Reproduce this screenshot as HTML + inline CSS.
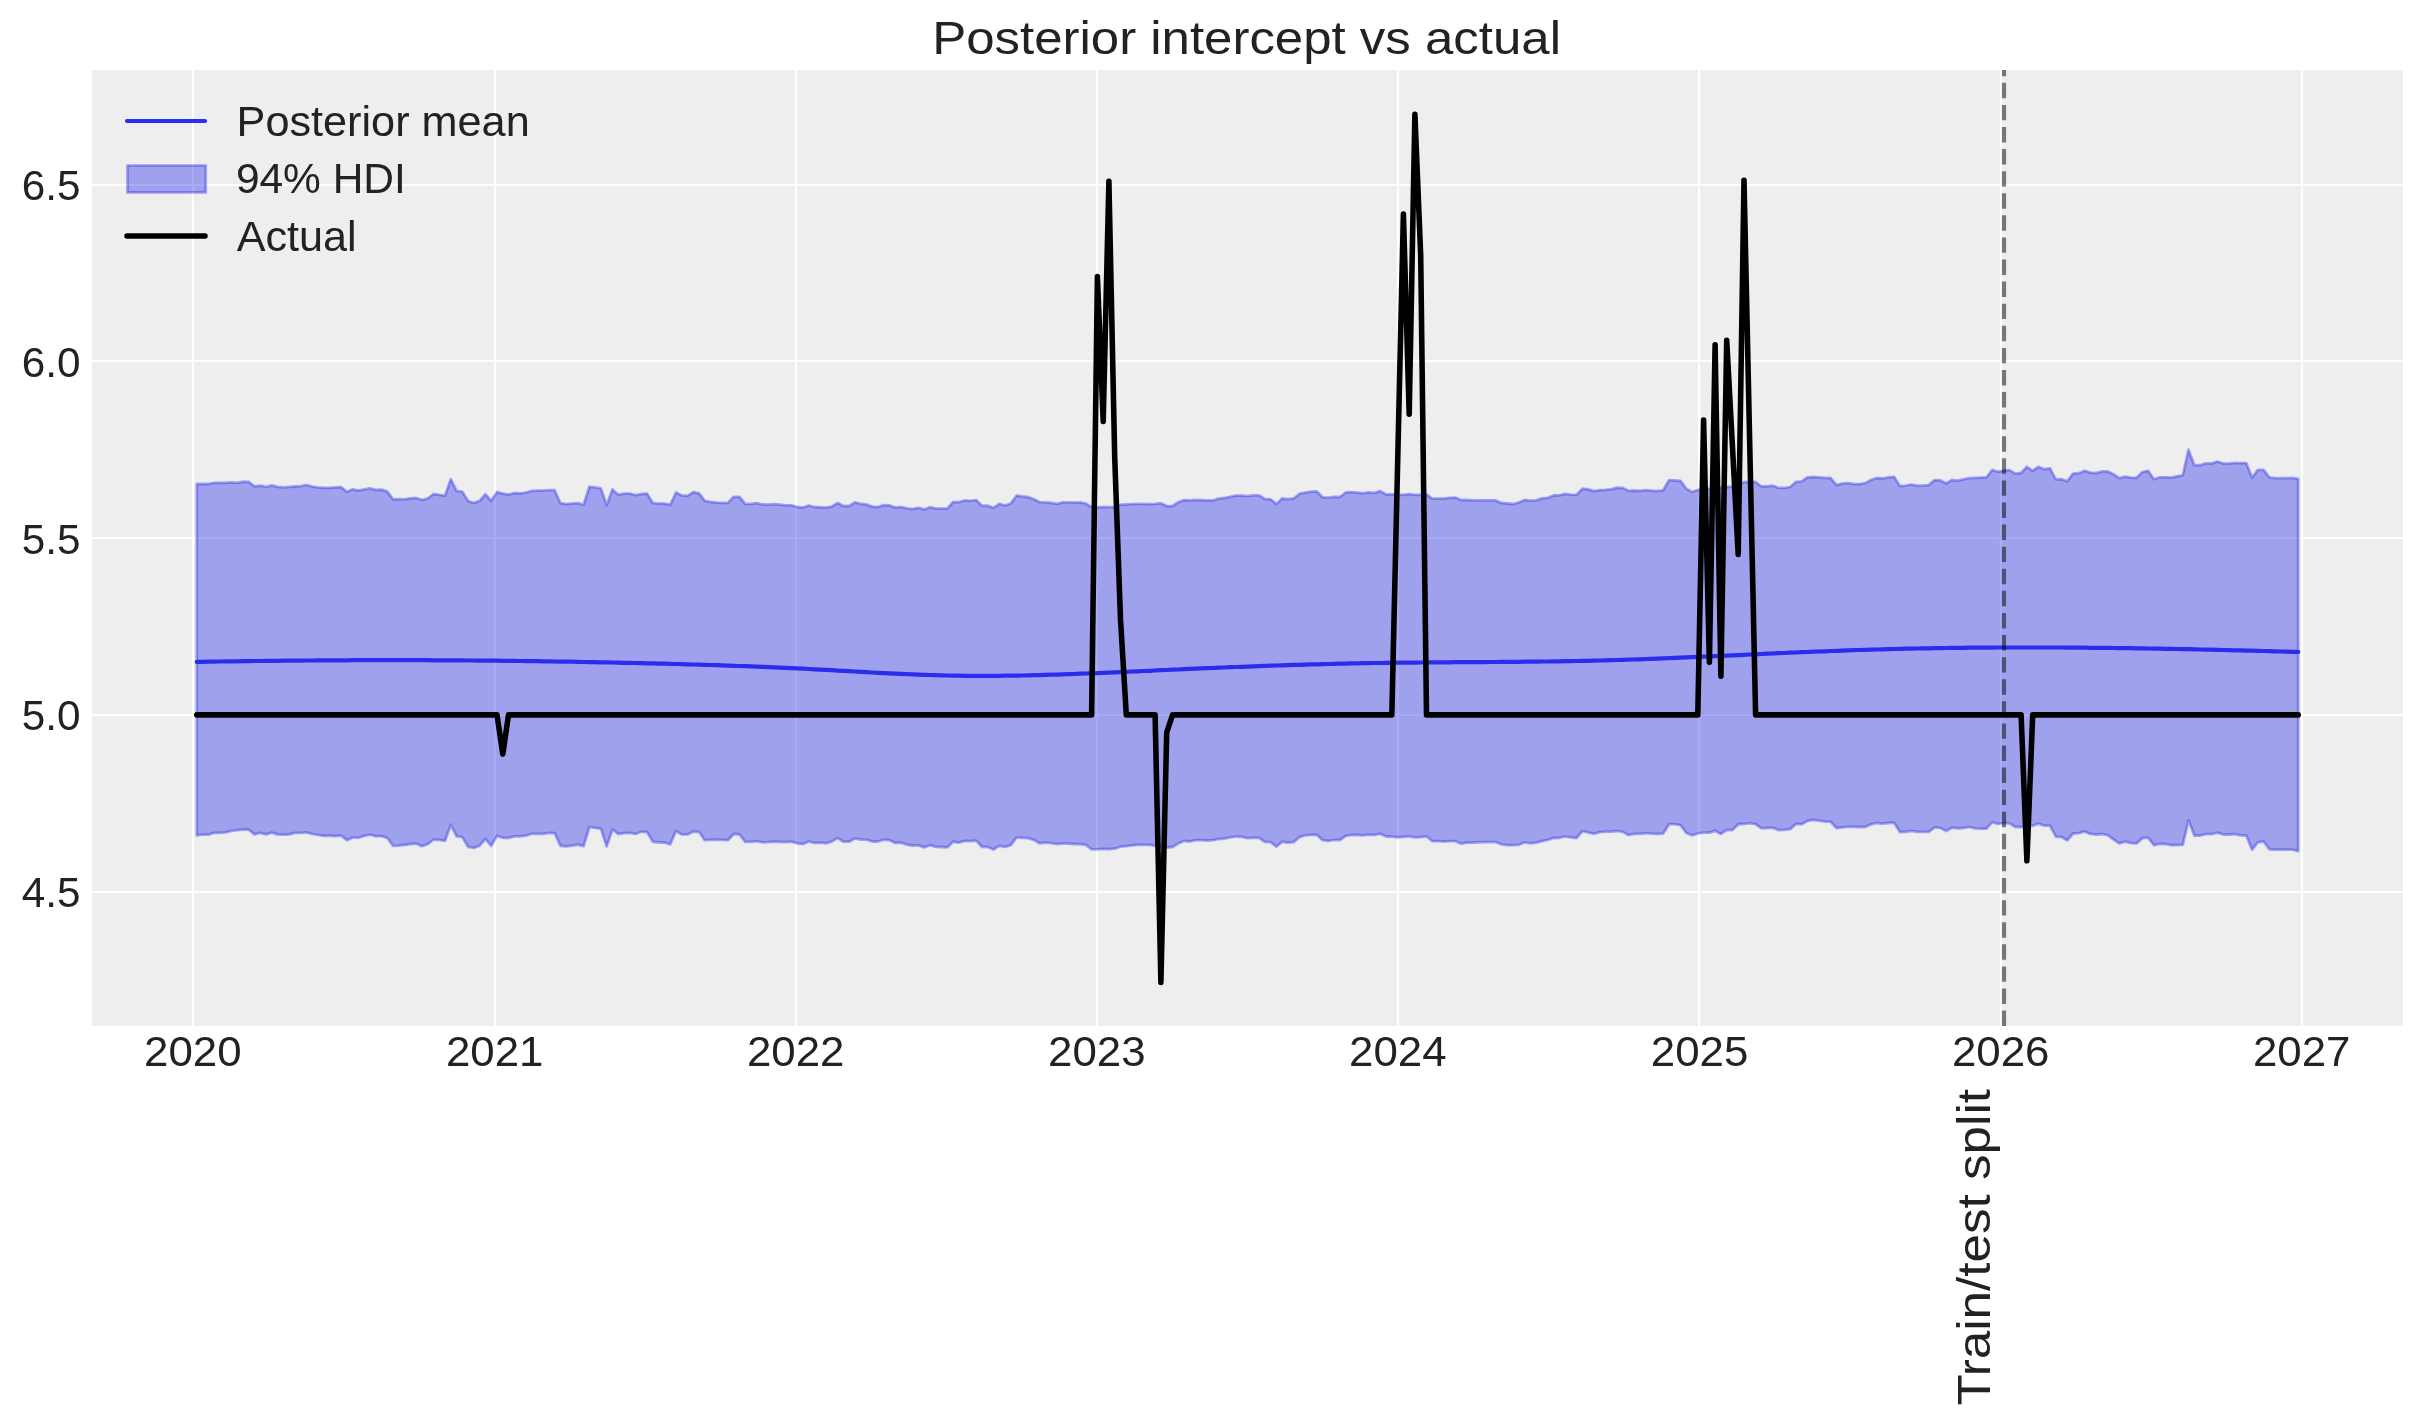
<!DOCTYPE html><html><head><meta charset="utf-8"><style>html,body{margin:0;padding:0;background:#fff;overflow:hidden}svg{display:block}text{font-family:"Liberation Sans", sans-serif;fill:#222222}svg{will-change:transform}</style></head><body>
<svg width="2423" height="1423" viewBox="0 0 2423 1423">
<rect x="0" y="0" width="2423" height="1423" fill="#ffffff"/>
<rect x="92" y="70" width="2311" height="956" fill="#eeeeee"/>
<path d="M193.00,70 V1026 M495.00,70 V1026 M796.00,70 V1026 M1097.00,70 V1026 M1398.00,70 V1026 M1699.00,70 V1026 M2001.00,70 V1026 M2302.00,70 V1026 M92,892.00 H2403 M92,715.00 H2403 M92,538.00 H2403 M92,361.00 H2403 M92,185.00 H2403" stroke="#ffffff" stroke-width="2.22" fill="none"/>
<path d="M196.8,484.0 L202.5,484.0 L208.3,484.0 L214.1,482.8 L219.9,482.8 L225.6,482.8 L231.4,482.4 L237.2,482.9 L243.0,481.7 L248.7,481.9 L254.5,486.3 L260.3,485.7 L266.1,486.9 L271.8,485.4 L277.6,486.9 L283.4,487.4 L289.1,486.9 L294.9,486.5 L300.7,486.2 L306.5,485.0 L312.2,486.5 L318.0,487.4 L323.8,487.8 L329.6,487.8 L335.3,487.4 L341.1,487.1 L346.9,491.8 L352.7,489.4 L358.4,490.6 L364.2,489.4 L370.0,488.4 L375.7,489.9 L381.5,489.6 L387.3,491.5 L393.1,499.3 L398.8,499.2 L404.6,499.3 L410.4,498.3 L416.2,498.0 L421.9,499.9 L427.7,498.5 L433.5,494.0 L439.3,494.8 L445.0,495.8 L450.8,479.1 L456.6,490.9 L462.3,491.7 L468.1,501.1 L473.9,503.0 L479.7,500.8 L485.4,494.2 L491.2,500.8 L497.0,492.1 L502.8,493.6 L508.5,494.6 L514.3,493.1 L520.1,493.3 L525.8,492.7 L531.6,490.9 L537.4,490.6 L543.2,490.6 L548.9,490.2 L554.7,490.2 L560.5,503.2 L566.3,504.1 L572.0,503.6 L577.8,503.2 L583.6,504.7 L589.4,486.8 L595.1,487.4 L600.9,488.4 L606.7,505.3 L612.4,489.4 L618.2,494.8 L624.0,493.6 L629.8,493.6 L635.5,495.2 L641.3,494.0 L647.1,493.6 L652.9,503.2 L658.6,503.6 L664.4,503.6 L670.2,504.8 L676.0,492.5 L681.7,495.4 L687.5,495.8 L693.3,492.1 L699.0,493.3 L704.8,500.8 L710.6,502.0 L716.4,502.6 L722.1,502.9 L727.9,502.9 L733.7,496.8 L739.5,496.8 L745.2,503.9 L751.0,503.9 L756.8,503.2 L762.6,504.5 L768.3,504.7 L774.1,504.2 L779.9,504.7 L785.6,505.3 L791.4,505.3 L797.2,507.0 L803.0,507.6 L808.7,505.5 L814.5,507.0 L820.3,507.3 L826.1,507.6 L831.8,506.6 L837.6,503.0 L843.4,506.0 L849.2,506.0 L854.9,502.4 L860.7,503.9 L866.5,504.5 L872.2,506.6 L878.0,507.0 L883.8,505.1 L889.6,505.5 L895.3,507.6 L901.1,507.0 L906.9,508.4 L912.7,509.1 L918.4,507.8 L924.2,509.4 L930.0,507.2 L935.8,508.6 L941.5,508.6 L947.3,508.6 L953.1,502.0 L958.8,502.2 L964.6,500.5 L970.4,500.8 L976.2,500.1 L981.9,505.7 L987.7,505.7 L993.5,507.9 L999.3,503.9 L1005.0,505.5 L1010.8,503.5 L1016.6,495.6 L1022.3,496.4 L1028.1,497.0 L1033.9,499.3 L1039.7,502.2 L1045.4,502.4 L1051.2,502.9 L1057.0,503.9 L1062.8,502.4 L1068.5,502.4 L1074.3,502.6 L1080.1,502.4 L1085.9,503.5 L1091.6,507.2 L1097.4,507.3 L1103.2,507.0 L1108.9,507.2 L1114.7,507.2 L1120.5,504.7 L1126.3,504.5 L1132.0,504.1 L1137.8,503.9 L1143.6,503.9 L1149.4,504.1 L1155.1,503.9 L1160.9,503.2 L1166.7,506.1 L1172.5,506.0 L1178.2,502.2 L1184.0,500.1 L1189.8,500.5 L1195.5,499.9 L1201.3,500.1 L1207.1,500.5 L1212.9,500.5 L1218.6,498.7 L1224.4,498.0 L1230.2,496.8 L1236.0,495.6 L1241.7,495.6 L1247.5,496.2 L1253.3,495.4 L1259.1,495.4 L1264.8,498.9 L1270.6,499.3 L1276.4,503.9 L1282.1,498.5 L1287.9,499.2 L1293.7,498.5 L1299.5,493.7 L1305.2,492.7 L1311.0,491.7 L1316.8,491.5 L1322.6,497.3 L1328.3,497.7 L1334.1,497.0 L1339.9,497.0 L1345.7,492.5 L1351.4,492.1 L1357.2,492.7 L1363.0,493.2 L1368.7,492.4 L1374.5,492.9 L1380.3,491.1 L1386.1,494.5 L1391.8,494.5 L1397.6,494.7 L1403.4,494.8 L1409.2,494.2 L1414.9,494.8 L1420.7,494.8 L1426.5,494.5 L1432.2,498.6 L1438.0,498.6 L1443.8,498.6 L1449.6,497.8 L1455.3,497.6 L1461.1,500.0 L1466.9,500.0 L1472.7,500.3 L1478.4,500.4 L1484.2,500.4 L1490.0,500.4 L1495.8,500.4 L1501.5,502.9 L1507.3,503.5 L1513.1,504.0 L1518.8,502.5 L1524.6,500.0 L1530.4,500.7 L1536.2,500.3 L1541.9,498.4 L1547.7,497.9 L1553.5,495.5 L1559.3,495.3 L1565.0,493.9 L1570.8,494.7 L1576.6,494.8 L1582.4,488.7 L1588.1,489.3 L1593.9,491.1 L1599.7,490.1 L1605.4,489.8 L1611.2,489.3 L1617.0,487.7 L1622.8,488.0 L1628.5,490.8 L1634.3,490.5 L1640.1,490.8 L1645.9,490.1 L1651.6,490.7 L1657.4,490.9 L1663.2,490.3 L1669.0,480.1 L1674.7,480.5 L1680.5,480.8 L1686.3,488.8 L1692.0,491.9 L1697.8,490.0 L1703.6,489.4 L1709.4,488.8 L1715.1,488.2 L1720.9,487.6 L1726.7,487.0 L1732.5,486.7 L1738.2,484.5 L1744.0,482.2 L1749.8,482.0 L1755.6,482.0 L1761.3,486.3 L1767.1,486.3 L1772.9,485.7 L1778.6,487.9 L1784.4,487.9 L1790.2,487.0 L1796.0,481.8 L1801.7,481.4 L1807.5,477.3 L1813.3,477.0 L1819.1,477.3 L1824.8,477.9 L1830.6,478.0 L1836.4,485.1 L1842.2,483.6 L1847.9,483.2 L1853.7,483.9 L1859.5,484.1 L1865.2,483.2 L1871.0,479.9 L1876.8,478.0 L1882.6,478.5 L1888.3,477.4 L1894.1,476.8 L1899.9,486.0 L1905.7,485.7 L1911.4,484.5 L1917.2,485.7 L1923.0,485.7 L1928.7,485.1 L1934.5,480.1 L1940.3,480.3 L1946.1,483.5 L1951.8,480.0 L1957.6,480.7 L1963.4,479.4 L1969.2,478.2 L1974.9,477.9 L1980.7,477.6 L1986.5,477.3 L1992.3,469.9 L1998.0,471.8 L2003.8,470.5 L2009.6,470.1 L2015.3,473.6 L2021.1,473.0 L2026.9,466.8 L2032.7,470.8 L2038.4,466.8 L2044.2,469.2 L2050.0,468.3 L2055.8,479.4 L2061.5,479.2 L2067.3,481.3 L2073.1,473.6 L2078.9,473.2 L2084.6,470.8 L2090.4,472.6 L2096.2,473.2 L2101.9,471.4 L2107.7,471.4 L2113.5,474.2 L2119.3,478.2 L2125.0,476.7 L2130.8,477.6 L2136.6,477.8 L2142.4,472.0 L2148.1,470.8 L2153.9,479.2 L2159.7,477.3 L2165.5,477.3 L2171.2,477.6 L2177.0,476.3 L2182.8,475.3 L2188.5,449.7 L2194.3,465.2 L2200.1,465.2 L2205.9,463.3 L2211.6,463.6 L2217.4,461.5 L2223.2,463.6 L2229.0,463.6 L2234.7,462.9 L2240.5,463.1 L2246.3,463.1 L2252.1,477.8 L2257.8,469.9 L2263.6,469.9 L2269.4,477.4 L2275.1,478.2 L2280.9,478.2 L2286.7,478.2 L2292.5,477.9 L2298.2,478.8 L2298.2,851.2 L2292.5,849.7 L2286.7,849.7 L2280.9,849.5 L2275.1,849.7 L2269.4,849.3 L2263.6,841.5 L2257.8,842.3 L2252.1,849.7 L2246.3,835.5 L2240.5,835.3 L2234.7,834.1 L2229.0,834.5 L2223.2,834.5 L2217.4,832.6 L2211.6,834.1 L2205.9,834.1 L2200.1,835.5 L2194.3,835.5 L2188.5,820.2 L2182.8,844.8 L2177.0,845.0 L2171.2,845.2 L2165.5,844.0 L2159.7,843.8 L2153.9,845.2 L2148.1,837.6 L2142.4,838.2 L2136.6,843.4 L2130.8,843.1 L2125.0,841.7 L2119.3,843.4 L2113.5,839.4 L2107.7,835.1 L2101.9,834.1 L2096.2,834.5 L2090.4,833.9 L2084.6,831.4 L2078.9,833.2 L2073.1,833.5 L2067.3,840.4 L2061.5,837.0 L2055.8,836.6 L2050.0,825.6 L2044.2,825.6 L2038.4,823.6 L2032.7,825.8 L2026.9,825.8 L2021.1,827.0 L2015.3,827.0 L2009.6,823.3 L2003.8,823.0 L1998.0,824.0 L1992.3,822.1 L1986.5,828.7 L1980.7,828.7 L1974.9,828.3 L1969.2,827.0 L1963.4,828.0 L1957.6,828.3 L1951.8,827.7 L1946.1,831.1 L1940.3,827.9 L1934.5,827.4 L1928.7,831.8 L1923.0,831.8 L1917.2,831.8 L1911.4,830.8 L1905.7,831.8 L1899.9,832.0 L1894.1,822.7 L1888.3,823.0 L1882.6,823.7 L1876.8,823.0 L1871.0,824.3 L1865.2,827.0 L1859.5,827.0 L1853.7,826.8 L1847.9,826.8 L1842.2,827.4 L1836.4,828.0 L1830.6,821.7 L1824.8,821.7 L1819.1,820.6 L1813.3,819.9 L1807.5,820.9 L1801.7,824.2 L1796.0,824.0 L1790.2,829.2 L1784.4,829.8 L1778.6,830.1 L1772.9,827.7 L1767.1,828.0 L1761.3,828.3 L1755.6,824.2 L1749.8,823.1 L1744.0,824.0 L1738.2,824.2 L1732.5,830.1 L1726.7,829.8 L1720.9,833.9 L1715.1,830.8 L1709.4,832.6 L1703.6,832.6 L1697.8,833.5 L1692.0,835.3 L1686.3,833.0 L1680.5,825.2 L1674.7,824.2 L1669.0,824.2 L1663.2,833.6 L1657.4,833.9 L1651.6,833.6 L1645.9,833.1 L1640.1,833.8 L1634.3,833.8 L1628.5,835.0 L1622.8,831.9 L1617.0,831.0 L1611.2,831.6 L1605.4,831.6 L1599.7,832.2 L1593.9,833.8 L1588.1,832.4 L1582.4,831.2 L1576.6,838.0 L1570.8,837.4 L1565.0,836.5 L1559.3,837.8 L1553.5,838.0 L1547.7,839.9 L1541.9,841.2 L1536.2,842.7 L1530.4,843.3 L1524.6,842.3 L1518.8,844.8 L1513.1,845.2 L1507.3,845.2 L1501.5,844.3 L1495.8,842.1 L1490.0,842.1 L1484.2,842.1 L1478.4,842.3 L1472.7,842.5 L1466.9,842.7 L1461.1,843.6 L1455.3,841.2 L1449.6,841.2 L1443.8,841.5 L1438.0,841.2 L1432.2,841.2 L1426.5,836.3 L1420.7,837.1 L1414.9,837.4 L1409.2,836.3 L1403.4,836.8 L1397.6,837.4 L1391.8,836.5 L1386.1,836.5 L1380.3,833.7 L1374.5,835.0 L1368.7,834.7 L1363.0,835.3 L1357.2,835.0 L1351.4,835.0 L1345.7,835.9 L1339.9,840.0 L1334.1,840.0 L1328.3,840.9 L1322.6,840.2 L1316.8,834.7 L1311.0,834.9 L1305.2,835.3 L1299.5,837.1 L1293.7,842.1 L1287.9,842.5 L1282.1,841.8 L1276.4,846.7 L1270.6,842.1 L1264.8,841.8 L1259.1,837.8 L1253.3,837.8 L1247.5,838.1 L1241.7,836.8 L1236.0,836.5 L1230.2,837.5 L1224.4,838.6 L1218.6,839.0 L1212.9,840.2 L1207.1,840.5 L1201.3,840.2 L1195.5,840.2 L1189.8,841.5 L1184.0,840.9 L1178.2,843.6 L1172.5,847.0 L1166.7,847.7 L1160.9,846.4 L1155.1,845.6 L1149.4,844.9 L1143.6,844.8 L1137.8,844.9 L1132.0,845.4 L1126.3,846.1 L1120.5,846.7 L1114.7,848.7 L1108.9,849.2 L1103.2,848.9 L1097.4,849.3 L1091.6,849.3 L1085.9,844.8 L1080.1,844.2 L1074.3,844.0 L1068.5,843.6 L1062.8,843.3 L1057.0,844.2 L1051.2,843.1 L1045.4,842.7 L1039.7,843.3 L1033.9,839.9 L1028.1,838.1 L1022.3,837.8 L1016.6,837.4 L1010.8,845.2 L1005.0,847.0 L999.3,845.8 L993.5,849.5 L987.7,847.0 L981.9,846.8 L976.2,840.6 L970.4,841.2 L964.6,840.9 L958.8,842.7 L953.1,841.7 L947.3,847.4 L941.5,847.0 L935.8,846.8 L930.0,845.2 L924.2,847.4 L918.4,845.2 L912.7,845.6 L906.9,844.6 L901.1,842.7 L895.3,843.0 L889.6,840.2 L883.8,839.6 L878.0,841.5 L872.2,841.5 L866.5,839.6 L860.7,839.6 L854.9,838.4 L849.2,841.7 L843.4,841.7 L837.6,838.1 L831.8,841.5 L826.1,843.3 L820.3,842.7 L814.5,843.0 L808.7,841.5 L803.0,844.0 L797.2,843.3 L791.4,841.7 L785.6,842.1 L779.9,841.8 L774.1,841.5 L768.3,842.1 L762.6,842.3 L756.8,841.2 L751.0,841.8 L745.2,841.8 L739.5,834.4 L733.7,834.0 L727.9,840.2 L722.1,839.9 L716.4,839.6 L710.6,839.9 L704.8,840.2 L699.0,831.8 L693.3,831.6 L687.5,834.4 L681.7,834.4 L676.0,831.0 L670.2,844.3 L664.4,842.5 L658.6,842.3 L652.9,841.8 L647.1,832.2 L641.3,831.8 L635.5,834.0 L629.8,832.8 L624.0,833.2 L618.2,834.0 L612.4,829.5 L606.7,846.4 L600.9,828.7 L595.1,827.9 L589.4,827.0 L583.6,846.1 L577.8,844.6 L572.0,845.6 L566.3,846.4 L560.5,845.8 L554.7,833.2 L548.9,832.8 L543.2,833.8 L537.4,833.8 L531.6,833.8 L525.8,835.7 L520.1,836.3 L514.3,836.3 L508.5,838.0 L502.8,837.8 L497.0,835.9 L491.2,845.8 L485.4,839.0 L479.7,845.6 L473.9,848.0 L468.1,846.8 L462.3,837.1 L456.6,836.3 L450.8,824.8 L445.0,840.9 L439.3,839.9 L433.5,839.6 L427.7,844.2 L421.9,846.2 L416.2,843.6 L410.4,844.2 L404.6,844.9 L398.8,845.6 L393.1,845.8 L387.3,838.0 L381.5,836.2 L375.7,836.2 L370.0,834.7 L364.2,835.9 L358.4,837.8 L352.7,837.4 L346.9,840.2 L341.1,835.5 L335.3,836.2 L329.6,835.5 L323.8,835.9 L318.0,835.0 L312.2,834.0 L306.5,832.4 L300.7,832.8 L294.9,832.8 L289.1,834.4 L283.4,834.7 L277.6,834.4 L271.8,832.6 L266.1,834.4 L260.3,832.8 L254.5,834.4 L248.7,829.7 L243.0,829.5 L237.2,830.1 L231.4,831.0 L225.6,832.4 L219.9,832.8 L214.1,832.8 L208.3,834.7 L202.5,834.7 L196.8,835.3 Z" fill="#2a2eec" fill-opacity="0.4" stroke="#2a2eec" stroke-opacity="0.4" stroke-width="2.78" stroke-linejoin="round"/>
<path d="M196.8,661.9 L202.5,661.8 L208.3,661.7 L214.1,661.6 L219.9,661.5 L225.6,661.4 L231.4,661.4 L237.2,661.3 L243.0,661.2 L248.7,661.1 L254.5,661.0 L260.3,661.0 L266.1,660.9 L271.8,660.8 L277.6,660.8 L283.4,660.7 L289.1,660.7 L294.9,660.6 L300.7,660.6 L306.5,660.5 L312.2,660.5 L318.0,660.4 L323.8,660.4 L329.6,660.3 L335.3,660.3 L341.1,660.3 L346.9,660.3 L352.7,660.2 L358.4,660.2 L364.2,660.2 L370.0,660.2 L375.7,660.2 L381.5,660.2 L387.3,660.2 L393.1,660.2 L398.8,660.2 L404.6,660.2 L410.4,660.2 L416.2,660.2 L421.9,660.2 L427.7,660.2 L433.5,660.3 L439.3,660.3 L445.0,660.3 L450.8,660.4 L456.6,660.4 L462.3,660.4 L468.1,660.5 L473.9,660.5 L479.7,660.6 L485.4,660.6 L491.2,660.7 L497.0,660.7 L502.8,660.8 L508.5,660.8 L514.3,660.9 L520.1,661.0 L525.8,661.1 L531.6,661.1 L537.4,661.2 L543.2,661.3 L548.9,661.4 L554.7,661.5 L560.5,661.6 L566.3,661.6 L572.0,661.7 L577.8,661.8 L583.6,662.0 L589.4,662.1 L595.1,662.2 L600.9,662.3 L606.7,662.4 L612.4,662.5 L618.2,662.6 L624.0,662.8 L629.8,662.9 L635.5,663.0 L641.3,663.2 L647.1,663.3 L652.9,663.4 L658.6,663.6 L664.4,663.7 L670.2,663.9 L676.0,664.0 L681.7,664.2 L687.5,664.4 L693.3,664.5 L699.0,664.7 L704.8,664.9 L710.6,665.0 L716.4,665.2 L722.1,665.4 L727.9,665.6 L733.7,665.8 L739.5,666.0 L745.2,666.2 L751.0,666.4 L756.8,666.6 L762.6,666.8 L768.3,667.1 L774.1,667.3 L779.9,667.6 L785.6,667.8 L791.4,668.1 L797.2,668.4 L803.0,668.7 L808.7,669.0 L814.5,669.3 L820.3,669.6 L826.1,669.9 L831.8,670.2 L837.6,670.6 L843.4,670.9 L849.2,671.2 L854.9,671.5 L860.7,671.9 L866.5,672.2 L872.2,672.5 L878.0,672.8 L883.8,673.1 L889.6,673.4 L895.3,673.7 L901.1,673.9 L906.9,674.2 L912.7,674.4 L918.4,674.6 L924.2,674.8 L930.0,675.0 L935.8,675.2 L941.5,675.4 L947.3,675.5 L953.1,675.6 L958.8,675.7 L964.6,675.8 L970.4,675.8 L976.2,675.9 L981.9,675.9 L987.7,675.9 L993.5,675.8 L999.3,675.8 L1005.0,675.7 L1010.8,675.7 L1016.6,675.6 L1022.3,675.5 L1028.1,675.3 L1033.9,675.2 L1039.7,675.1 L1045.4,674.9 L1051.2,674.7 L1057.0,674.6 L1062.8,674.4 L1068.5,674.2 L1074.3,674.0 L1080.1,673.7 L1085.9,673.5 L1091.6,673.3 L1097.4,673.1 L1103.2,672.8 L1108.9,672.6 L1114.7,672.3 L1120.5,672.1 L1126.3,671.8 L1132.0,671.5 L1137.8,671.3 L1143.6,671.0 L1149.4,670.8 L1155.1,670.5 L1160.9,670.2 L1166.7,670.0 L1172.5,669.7 L1178.2,669.5 L1184.0,669.2 L1189.8,668.9 L1195.5,668.7 L1201.3,668.4 L1207.1,668.2 L1212.9,668.0 L1218.6,667.7 L1224.4,667.5 L1230.2,667.2 L1236.0,667.0 L1241.7,666.8 L1247.5,666.6 L1253.3,666.3 L1259.1,666.1 L1264.8,665.9 L1270.6,665.7 L1276.4,665.5 L1282.1,665.3 L1287.9,665.1 L1293.7,664.9 L1299.5,664.8 L1305.2,664.6 L1311.0,664.4 L1316.8,664.3 L1322.6,664.1 L1328.3,664.0 L1334.1,663.8 L1339.9,663.7 L1345.7,663.6 L1351.4,663.4 L1357.2,663.3 L1363.0,663.2 L1368.7,663.1 L1374.5,663.0 L1380.3,663.0 L1386.1,662.9 L1391.8,662.8 L1397.6,662.7 L1403.4,662.7 L1409.2,662.6 L1414.9,662.6 L1420.7,662.5 L1426.5,662.5 L1432.2,662.4 L1438.0,662.4 L1443.8,662.3 L1449.6,662.3 L1455.3,662.2 L1461.1,662.2 L1466.9,662.2 L1472.7,662.1 L1478.4,662.1 L1484.2,662.1 L1490.0,662.0 L1495.8,662.0 L1501.5,661.9 L1507.3,661.9 L1513.1,661.8 L1518.8,661.8 L1524.6,661.7 L1530.4,661.7 L1536.2,661.6 L1541.9,661.5 L1547.7,661.5 L1553.5,661.4 L1559.3,661.3 L1565.0,661.2 L1570.8,661.1 L1576.6,661.0 L1582.4,660.9 L1588.1,660.8 L1593.9,660.6 L1599.7,660.5 L1605.4,660.3 L1611.2,660.2 L1617.0,660.0 L1622.8,659.8 L1628.5,659.6 L1634.3,659.5 L1640.1,659.3 L1645.9,659.0 L1651.6,658.8 L1657.4,658.6 L1663.2,658.4 L1669.0,658.2 L1674.7,657.9 L1680.5,657.7 L1686.3,657.4 L1692.0,657.2 L1697.8,656.9 L1703.6,656.7 L1709.4,656.4 L1715.1,656.1 L1720.9,655.9 L1726.7,655.6 L1732.5,655.3 L1738.2,655.1 L1744.0,654.8 L1749.8,654.5 L1755.6,654.3 L1761.3,654.0 L1767.1,653.7 L1772.9,653.5 L1778.6,653.2 L1784.4,653.0 L1790.2,652.7 L1796.0,652.5 L1801.7,652.2 L1807.5,652.0 L1813.3,651.7 L1819.1,651.5 L1824.8,651.3 L1830.6,651.0 L1836.4,650.8 L1842.2,650.6 L1847.9,650.4 L1853.7,650.2 L1859.5,650.0 L1865.2,649.8 L1871.0,649.6 L1876.8,649.5 L1882.6,649.3 L1888.3,649.2 L1894.1,649.0 L1899.9,648.9 L1905.7,648.7 L1911.4,648.6 L1917.2,648.5 L1923.0,648.4 L1928.7,648.3 L1934.5,648.2 L1940.3,648.1 L1946.1,648.0 L1951.8,647.9 L1957.6,647.9 L1963.4,647.8 L1969.2,647.7 L1974.9,647.7 L1980.7,647.6 L1986.5,647.6 L1992.3,647.6 L1998.0,647.5 L2003.8,647.5 L2009.6,647.5 L2015.3,647.5 L2021.1,647.5 L2026.9,647.5 L2032.7,647.5 L2038.4,647.5 L2044.2,647.5 L2050.0,647.5 L2055.8,647.5 L2061.5,647.5 L2067.3,647.6 L2073.1,647.6 L2078.9,647.7 L2084.6,647.7 L2090.4,647.8 L2096.2,647.8 L2101.9,647.9 L2107.7,647.9 L2113.5,648.0 L2119.3,648.1 L2125.0,648.2 L2130.8,648.2 L2136.6,648.3 L2142.4,648.4 L2148.1,648.5 L2153.9,648.6 L2159.7,648.7 L2165.5,648.8 L2171.2,648.9 L2177.0,649.0 L2182.8,649.1 L2188.5,649.2 L2194.3,649.4 L2200.1,649.5 L2205.9,649.6 L2211.6,649.7 L2217.4,649.9 L2223.2,650.0 L2229.0,650.1 L2234.7,650.3 L2240.5,650.4 L2246.3,650.6 L2252.1,650.7 L2257.8,650.9 L2263.6,651.0 L2269.4,651.2 L2275.1,651.3 L2280.9,651.5 L2286.7,651.6 L2292.5,651.8 L2298.2,651.9" fill="none" stroke="#2a2eec" stroke-width="4.17" stroke-linejoin="round" stroke-linecap="round"/>
<path d="M196.8,714.9 L202.5,714.9 L208.3,714.9 L214.1,714.9 L219.9,714.9 L225.6,714.9 L231.4,714.9 L237.2,714.9 L243.0,714.9 L248.7,714.9 L254.5,714.9 L260.3,714.9 L266.1,714.9 L271.8,714.9 L277.6,714.9 L283.4,714.9 L289.1,714.9 L294.9,714.9 L300.7,714.9 L306.5,714.9 L312.2,714.9 L318.0,714.9 L323.8,714.9 L329.6,714.9 L335.3,714.9 L341.1,714.9 L346.9,714.9 L352.7,714.9 L358.4,714.9 L364.2,714.9 L370.0,714.9 L375.7,714.9 L381.5,714.9 L387.3,714.9 L393.1,714.9 L398.8,714.9 L404.6,714.9 L410.4,714.9 L416.2,714.9 L421.9,714.9 L427.7,714.9 L433.5,714.9 L439.3,714.9 L445.0,714.9 L450.8,714.9 L456.6,714.9 L462.3,714.9 L468.1,714.9 L473.9,714.9 L479.7,714.9 L485.4,714.9 L491.2,714.9 L497.0,714.9 L502.8,754.1 L508.5,714.9 L514.3,714.9 L520.1,714.9 L525.8,714.9 L531.6,714.9 L537.4,714.9 L543.2,714.9 L548.9,714.9 L554.7,714.9 L560.5,714.9 L566.3,714.9 L572.0,714.9 L577.8,714.9 L583.6,714.9 L589.4,714.9 L595.1,714.9 L600.9,714.9 L606.7,714.9 L612.4,714.9 L618.2,714.9 L624.0,714.9 L629.8,714.9 L635.5,714.9 L641.3,714.9 L647.1,714.9 L652.9,714.9 L658.6,714.9 L664.4,714.9 L670.2,714.9 L676.0,714.9 L681.7,714.9 L687.5,714.9 L693.3,714.9 L699.0,714.9 L704.8,714.9 L710.6,714.9 L716.4,714.9 L722.1,714.9 L727.9,714.9 L733.7,714.9 L739.5,714.9 L745.2,714.9 L751.0,714.9 L756.8,714.9 L762.6,714.9 L768.3,714.9 L774.1,714.9 L779.9,714.9 L785.6,714.9 L791.4,714.9 L797.2,714.9 L803.0,714.9 L808.7,714.9 L814.5,714.9 L820.3,714.9 L826.1,714.9 L831.8,714.9 L837.6,714.9 L843.4,714.9 L849.2,714.9 L854.9,714.9 L860.7,714.9 L866.5,714.9 L872.2,714.9 L878.0,714.9 L883.8,714.9 L889.6,714.9 L895.3,714.9 L901.1,714.9 L906.9,714.9 L912.7,714.9 L918.4,714.9 L924.2,714.9 L930.0,714.9 L935.8,714.9 L941.5,714.9 L947.3,714.9 L953.1,714.9 L958.8,714.9 L964.6,714.9 L970.4,714.9 L976.2,714.9 L981.9,714.9 L987.7,714.9 L993.5,714.9 L999.3,714.9 L1005.0,714.9 L1010.8,714.9 L1016.6,714.9 L1022.3,714.9 L1028.1,714.9 L1033.9,714.9 L1039.7,714.9 L1045.4,714.9 L1051.2,714.9 L1057.0,714.9 L1062.8,714.9 L1068.5,714.9 L1074.3,714.9 L1080.1,714.9 L1085.9,714.9 L1091.6,714.9 L1097.4,276.6 L1103.2,421.5 L1108.9,181.2 L1114.7,456.9 L1120.5,619.4 L1126.3,714.9 L1132.0,714.9 L1137.8,714.9 L1143.6,714.9 L1149.4,714.9 L1155.1,714.9 L1160.9,982.4 L1166.7,732.5 L1172.5,714.9 L1178.2,714.9 L1184.0,714.9 L1189.8,714.9 L1195.5,714.9 L1201.3,714.9 L1207.1,714.9 L1212.9,714.9 L1218.6,714.9 L1224.4,714.9 L1230.2,714.9 L1236.0,714.9 L1241.7,714.9 L1247.5,714.9 L1253.3,714.9 L1259.1,714.9 L1264.8,714.9 L1270.6,714.9 L1276.4,714.9 L1282.1,714.9 L1287.9,714.9 L1293.7,714.9 L1299.5,714.9 L1305.2,714.9 L1311.0,714.9 L1316.8,714.9 L1322.6,714.9 L1328.3,714.9 L1334.1,714.9 L1339.9,714.9 L1345.7,714.9 L1351.4,714.9 L1357.2,714.9 L1363.0,714.9 L1368.7,714.9 L1374.5,714.9 L1380.3,714.9 L1386.1,714.9 L1391.8,714.9 L1397.6,464.6 L1403.4,214.1 L1409.2,414.1 L1414.9,114.4 L1420.7,255.4 L1426.5,714.9 L1432.2,714.9 L1438.0,714.9 L1443.8,714.9 L1449.6,714.9 L1455.3,714.9 L1461.1,714.9 L1466.9,714.9 L1472.7,714.9 L1478.4,714.9 L1484.2,714.9 L1490.0,714.9 L1495.8,714.9 L1501.5,714.9 L1507.3,714.9 L1513.1,714.9 L1518.8,714.9 L1524.6,714.9 L1530.4,714.9 L1536.2,714.9 L1541.9,714.9 L1547.7,714.9 L1553.5,714.9 L1559.3,714.9 L1565.0,714.9 L1570.8,714.9 L1576.6,714.9 L1582.4,714.9 L1588.1,714.9 L1593.9,714.9 L1599.7,714.9 L1605.4,714.9 L1611.2,714.9 L1617.0,714.9 L1622.8,714.9 L1628.5,714.9 L1634.3,714.9 L1640.1,714.9 L1645.9,714.9 L1651.6,714.9 L1657.4,714.9 L1663.2,714.9 L1669.0,714.9 L1674.7,714.9 L1680.5,714.9 L1686.3,714.9 L1692.0,714.9 L1697.8,714.9 L1703.6,420.1 L1709.4,662.2 L1715.1,344.8 L1720.9,676.3 L1726.7,340.2 L1732.5,447.3 L1738.2,554.4 L1744.0,180.2 L1749.8,447.3 L1755.6,714.9 L1761.3,714.9 L1767.1,714.9 L1772.9,714.9 L1778.6,714.9 L1784.4,714.9 L1790.2,714.9 L1796.0,714.9 L1801.7,714.9 L1807.5,714.9 L1813.3,714.9 L1819.1,714.9 L1824.8,714.9 L1830.6,714.9 L1836.4,714.9 L1842.2,714.9 L1847.9,714.9 L1853.7,714.9 L1859.5,714.9 L1865.2,714.9 L1871.0,714.9 L1876.8,714.9 L1882.6,714.9 L1888.3,714.9 L1894.1,714.9 L1899.9,714.9 L1905.7,714.9 L1911.4,714.9 L1917.2,714.9 L1923.0,714.9 L1928.7,714.9 L1934.5,714.9 L1940.3,714.9 L1946.1,714.9 L1951.8,714.9 L1957.6,714.9 L1963.4,714.9 L1969.2,714.9 L1974.9,714.9 L1980.7,714.9 L1986.5,714.9 L1992.3,714.9 L1998.0,714.9 L2003.8,714.9 L2009.6,714.9 L2015.3,714.9 L2021.1,714.9 L2026.9,860.8 L2032.7,714.9 L2038.4,714.9 L2044.2,714.9 L2050.0,714.9 L2055.8,714.9 L2061.5,714.9 L2067.3,714.9 L2073.1,714.9 L2078.9,714.9 L2084.6,714.9 L2090.4,714.9 L2096.2,714.9 L2101.9,714.9 L2107.7,714.9 L2113.5,714.9 L2119.3,714.9 L2125.0,714.9 L2130.8,714.9 L2136.6,714.9 L2142.4,714.9 L2148.1,714.9 L2153.9,714.9 L2159.7,714.9 L2165.5,714.9 L2171.2,714.9 L2177.0,714.9 L2182.8,714.9 L2188.5,714.9 L2194.3,714.9 L2200.1,714.9 L2205.9,714.9 L2211.6,714.9 L2217.4,714.9 L2223.2,714.9 L2229.0,714.9 L2234.7,714.9 L2240.5,714.9 L2246.3,714.9 L2252.1,714.9 L2257.8,714.9 L2263.6,714.9 L2269.4,714.9 L2275.1,714.9 L2280.9,714.9 L2286.7,714.9 L2292.5,714.9 L2298.2,714.9" fill="none" stroke="#000000" stroke-width="5.56" stroke-linejoin="round" stroke-linecap="round"/>
<path d="M2004.0,1026 V70" stroke="#000000" stroke-opacity="0.5" stroke-width="4.17" stroke-dasharray="15.42 6.67" fill="none"/>
<path d="M127,121 H205" stroke="#2a2eec" stroke-width="4.17" stroke-linecap="round"/>
<rect x="127.5" y="165.6" width="78.2" height="26.8" fill="#2a2eec" fill-opacity="0.4" stroke="#2a2eec" stroke-opacity="0.4" stroke-width="2.78"/>
<path d="M127,236 H205" stroke="#000000" stroke-width="5.56" stroke-linecap="round"/>
<text x="1246.6" y="53.9" font-size="45.3" text-anchor="middle" textLength="628.8" lengthAdjust="spacingAndGlyphs">Posterior intercept vs actual</text>
<text x="80.5" y="200.1" font-size="42.3" text-anchor="end">6.5</text>
<text x="80.5" y="376.9" font-size="42.3" text-anchor="end">6.0</text>
<text x="80.5" y="553.6" font-size="42.3" text-anchor="end">5.5</text>
<text x="80.5" y="730.4" font-size="42.3" text-anchor="end">5.0</text>
<text x="80.5" y="907.1" font-size="42.3" text-anchor="end">4.5</text>
<text x="192.85" y="1066.2" font-size="42.3" text-anchor="middle" textLength="97.5" lengthAdjust="spacingAndGlyphs">2020</text>
<text x="494.7" y="1066.2" font-size="42.3" text-anchor="middle" textLength="97.5" lengthAdjust="spacingAndGlyphs">2021</text>
<text x="795.75" y="1066.2" font-size="42.3" text-anchor="middle" textLength="97.5" lengthAdjust="spacingAndGlyphs">2022</text>
<text x="1096.8" y="1066.2" font-size="42.3" text-anchor="middle" textLength="97.5" lengthAdjust="spacingAndGlyphs">2023</text>
<text x="1397.8" y="1066.2" font-size="42.3" text-anchor="middle" textLength="97.5" lengthAdjust="spacingAndGlyphs">2024</text>
<text x="1699.6" y="1066.2" font-size="42.3" text-anchor="middle" textLength="97.5" lengthAdjust="spacingAndGlyphs">2025</text>
<text x="2000.7" y="1066.2" font-size="42.3" text-anchor="middle" textLength="97.5" lengthAdjust="spacingAndGlyphs">2026</text>
<text x="2301.7" y="1066.2" font-size="42.3" text-anchor="middle" textLength="97.5" lengthAdjust="spacingAndGlyphs">2027</text>
<text x="236.6" y="136.3" font-size="43.2" textLength="293.1" lengthAdjust="spacingAndGlyphs">Posterior mean</text>
<text x="235.9" y="192.7" font-size="43.2" textLength="169.9" lengthAdjust="spacingAndGlyphs">94% HDI</text>
<text x="236.7" y="251.2" font-size="43.2" textLength="120" lengthAdjust="spacingAndGlyphs">Actual</text>
<text transform="translate(1989.8,1405.6) rotate(-90)" x="0" y="0" font-size="45.3" textLength="316.6" lengthAdjust="spacingAndGlyphs">Train/test split</text>

</svg></body></html>
